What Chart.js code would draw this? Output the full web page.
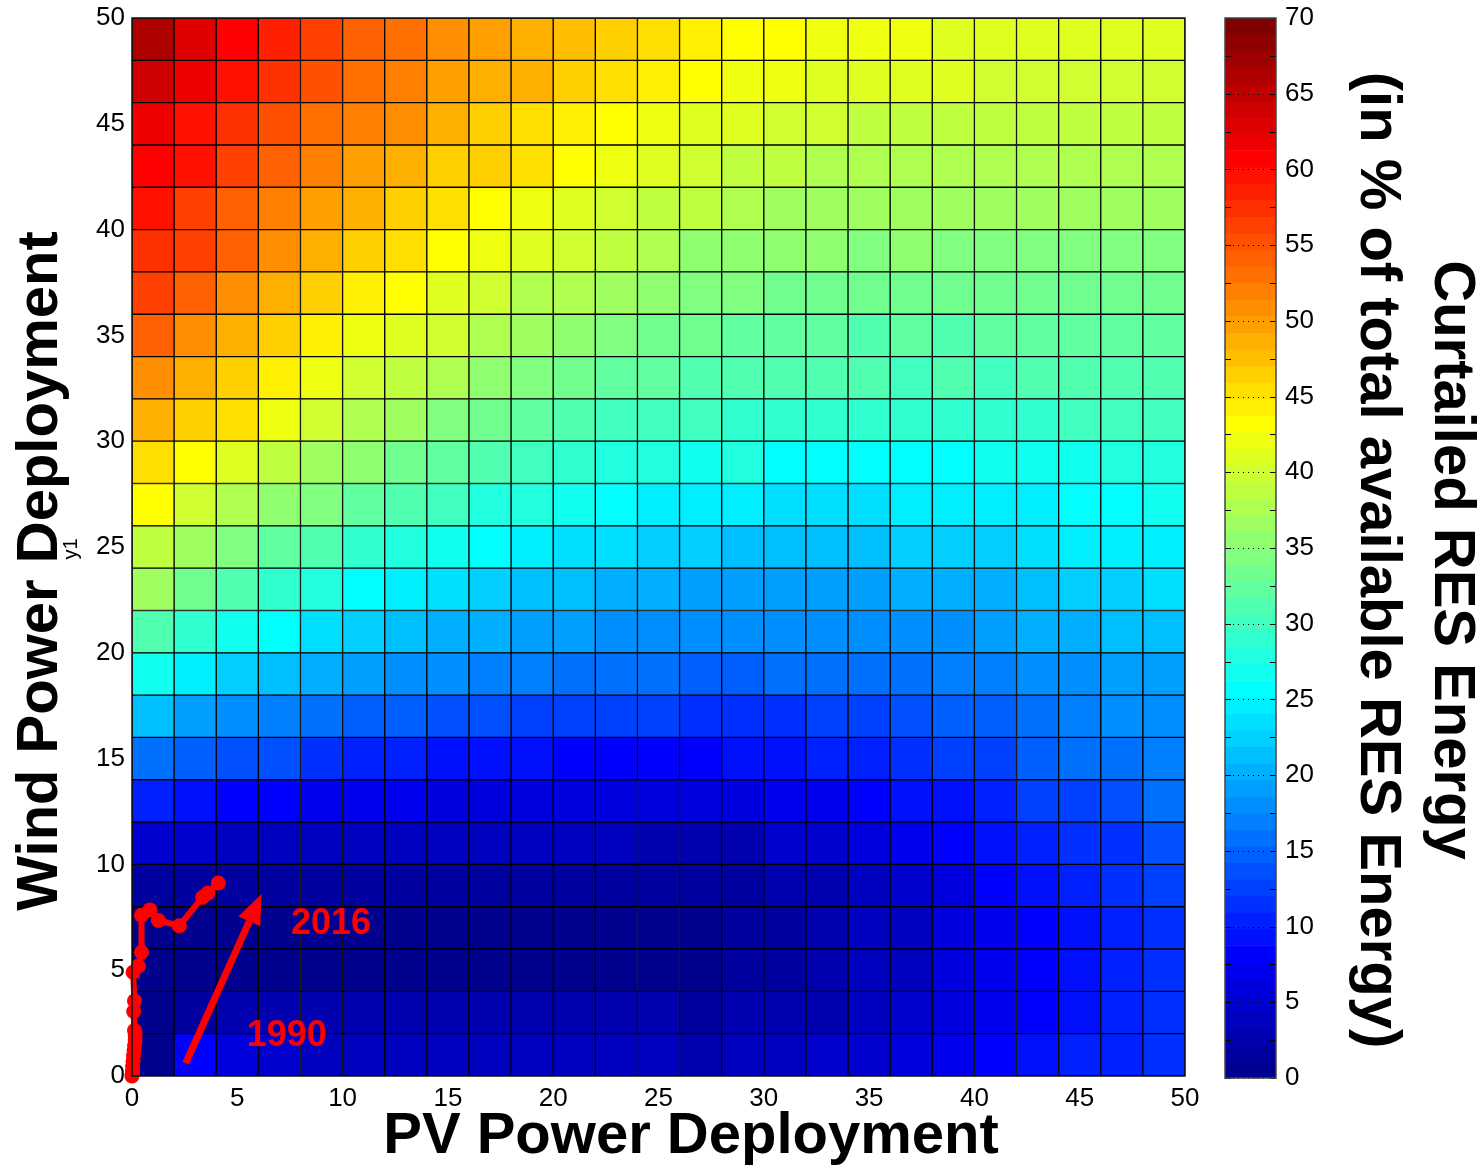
<!DOCTYPE html>
<html>
<head>
<meta charset="utf-8">
<title>Curtailed RES Energy</title>
<script src="https://cdn.jsdelivr.net/npm/chart.js@4.4.1/dist/chart.umd.min.js"></script>
<style>
  html, body { margin: 0; padding: 0; background: #fff; }
  #wrap { position: relative; width: 1481px; height: 1168px; overflow: hidden; }
  #heat { position: absolute; left: 0; top: 0; }
  #bar { position: absolute; left: 1215px; top: 0; }
</style>
</head>
<body>
<div id="wrap">
  <canvas id="heat" width="1215" height="1168"></canvas>
  <canvas id="bar" width="266" height="1168"></canvas>
</div>
<script>
// grid of deployment levels (lower edge of each 2-unit cell)
var binSize = 2;
var pvBins = [0, 2, 4, 6, 8, 10, 12, 14, 16, 18, 20, 22, 24, 26, 28, 30, 32, 34, 36, 38, 40, 42, 44, 46, 48];
var windBins = [0, 2, 4, 6, 8, 10, 12, 14, 16, 18, 20, 22, 24, 26, 28, 30, 32, 34, 36, 38, 40, 42, 44, 46, 48];

// curtailed RES energy (%), one row per wind level, columns follow pvBins
var curtailment = [
  [0.0, 8.2, 5.5, 4.4, 3.5, 3.5, 3.5, 3.5, 3.5, 3.5, 3.5, 3.5, 3.3, 2.7, 3.3, 3.8, 4.4, 4.9, 6.0, 7.1, 8.2, 8.8, 9.9, 10.4, 11.5],       // wind 0-2
  [0.2, 1.6, 2.2, 2.2, 2.2, 2.2, 2.2, 2.2, 2.2, 2.2, 2.2, 2.2, 2.2, 1.6, 2.2, 2.2, 2.7, 3.8, 4.9, 6.0, 7.1, 8.2, 9.3, 10.4, 11.5],       // wind 2-4
  [0.2, 0.8, 0.8, 0.8, 0.8, 0.8, 0.8, 0.8, 0.8, 0.8, 0.8, 0.8, 0.8, 0.6, 1.2, 1.6, 2.2, 3.3, 3.8, 5.5, 7.1, 8.2, 9.3, 10.4, 11.5],       // wind 4-6
  [0.6, 0.6, 0.6, 0.6, 0.6, 0.6, 0.6, 0.6, 0.6, 0.6, 0.6, 0.6, 0.6, 0.6, 1.2, 1.6, 2.2, 3.3, 3.8, 5.5, 7.1, 8.2, 9.3, 10.4, 12.0],       // wind 6-8
  [1.3, 1.3, 1.3, 1.3, 1.3, 1.3, 1.3, 1.3, 1.3, 1.3, 1.3, 1.9, 1.9, 1.9, 1.9, 2.4, 2.7, 3.8, 4.9, 6.0, 8.2, 9.3, 10.4, 11.5, 12.6],      // wind 8-10
  [4.6, 4.4, 3.8, 3.5, 3.5, 3.5, 3.5, 3.5, 3.5, 3.5, 3.5, 3.5, 3.1, 3.1, 3.1, 4.4, 5.2, 6.0, 7.1, 8.2, 9.0, 10.2, 11.2, 12.0, 13.4],     // wind 10-12
  [10.4, 9.5, 8.3, 7.7, 7.2, 7.2, 6.7, 6.2, 6.2, 6.2, 5.6, 5.6, 5.6, 5.6, 5.6, 6.7, 7.2, 8.3, 9.0, 9.5, 10.4, 12.1, 12.6, 13.7, 15.4],  // wind 12-14
  [15.9, 14.8, 13.7, 13.2, 11.5, 10.4, 10.0, 9.5, 9.0, 9.0, 8.3, 8.3, 8.3, 8.3, 9.5, 9.5, 10.0, 10.4, 11.0, 12.1, 12.6, 14.3, 15.4, 15.9, 16.5], // wind 14-16
  [21.7, 19.2, 18.1, 17.0, 15.9, 14.8, 14.3, 13.7, 13.2, 12.6, 12.6, 12.1, 12.1, 11.5, 11.5, 11.0, 12.1, 12.6, 13.2, 14.3, 14.8, 15.4, 16.5, 17.5, 18.1], // wind 16-18
  [26.8, 24.7, 22.6, 20.8, 19.8, 19.2, 18.1, 17.5, 17.0, 16.5, 15.9, 15.4, 15.4, 14.8, 14.8, 15.4, 15.4, 15.4, 15.9, 16.5, 17.0, 17.5, 18.1, 19.2, 19.2], // wind 18-20
  [31.2, 29.1, 26.8, 25.7, 23.7, 22.1, 20.8, 20.3, 19.8, 19.2, 18.7, 18.1, 17.5, 17.5, 17.5, 17.5, 17.5, 17.5, 18.1, 18.1, 19.2, 19.8, 20.3, 20.8, 21.7], // wind 20-22
  [36.3, 33.4, 31.2, 29.1, 28.1, 25.7, 24.7, 23.7, 22.6, 21.7, 20.8, 20.3, 19.8, 19.2, 19.2, 19.2, 19.2, 19.2, 19.8, 19.8, 20.3, 21.7, 22.6, 22.6, 23.7], // wind 22-24
  [38.9, 36.8, 34.5, 32.4, 31.2, 29.1, 28.1, 26.8, 25.7, 24.2, 23.7, 23.1, 22.6, 22.1, 21.7, 21.7, 21.7, 21.7, 22.1, 22.6, 22.6, 23.7, 24.2, 25.1, 24.7], // wind 24-26
  [43.1, 39.7, 37.3, 35.6, 34.5, 32.4, 31.2, 30.1, 28.1, 28.1, 26.8, 25.7, 24.7, 24.7, 24.7, 23.7, 23.7, 23.7, 24.7, 24.7, 24.7, 25.1, 25.7, 25.7, 26.8], // wind 26-28
  [45.7, 43.1, 40.9, 38.4, 36.8, 35.6, 33.4, 32.1, 31.2, 29.6, 29.1, 28.3, 28.1, 26.8, 27.4, 25.7, 25.7, 25.7, 25.7, 25.7, 26.8, 26.8, 26.8, 28.1, 28.1], // wind 28-30
  [49.2, 46.8, 44.9, 42.0, 39.7, 37.3, 36.3, 34.5, 33.4, 32.1, 31.2, 30.1, 29.6, 29.6, 29.1, 29.1, 29.1, 29.1, 29.1, 29.1, 29.1, 29.1, 29.6, 29.6, 30.1], // wind 30-32
  [51.1, 48.9, 46.8, 44.5, 41.8, 39.7, 38.4, 37.3, 35.1, 34.0, 33.4, 32.4, 32.1, 31.2, 30.7, 30.7, 30.7, 30.7, 30.1, 30.7, 30.1, 30.7, 30.7, 30.7, 31.2], // wind 32-34
  [53.8, 51.1, 48.9, 47.0, 44.5, 41.8, 40.6, 39.4, 37.3, 36.3, 35.1, 34.0, 32.9, 32.9, 32.4, 32.4, 32.4, 31.2, 31.8, 31.2, 31.8, 32.4, 32.4, 31.8, 32.4], // wind 34-36
  [55.8, 53.8, 51.4, 48.7, 46.8, 44.8, 43.1, 40.9, 39.7, 37.8, 37.3, 36.8, 35.6, 34.0, 34.0, 33.4, 33.4, 33.4, 33.4, 33.4, 33.4, 33.4, 33.4, 33.4, 33.4], // wind 36-38
  [57.9, 56.4, 54.0, 51.1, 48.9, 47.0, 45.7, 43.1, 42.0, 40.6, 39.7, 38.4, 37.8, 35.6, 35.6, 35.6, 35.1, 34.5, 35.1, 34.5, 34.5, 34.5, 34.5, 34.5, 34.5], // wind 38-40
  [59.7, 56.6, 54.5, 51.9, 49.8, 48.7, 46.8, 45.7, 43.1, 41.8, 40.9, 40.1, 38.9, 38.4, 37.3, 36.8, 36.8, 36.8, 36.8, 36.8, 36.8, 36.8, 36.8, 36.8, 36.8], // wind 40-42
  [60.5, 59.1, 56.6, 54.2, 52.2, 50.1, 49.2, 47.0, 46.2, 44.9, 43.1, 42.0, 41.1, 39.4, 38.4, 38.4, 37.8, 37.8, 37.8, 37.8, 37.3, 37.8, 37.3, 37.3, 37.3], // wind 42-44
  [62.1, 59.7, 57.7, 55.3, 53.4, 52.2, 50.9, 49.2, 47.0, 45.9, 44.5, 43.1, 42.2, 40.6, 40.6, 40.1, 39.4, 38.9, 38.9, 38.9, 38.9, 38.9, 38.9, 38.9, 38.9], // wind 44-46
  [64.3, 61.9, 59.7, 57.9, 55.3, 53.4, 52.2, 50.1, 49.2, 48.5, 46.8, 44.9, 44.7, 43.1, 42.2, 42.2, 41.1, 41.1, 41.1, 40.6, 40.1, 40.1, 40.1, 40.1, 40.1], // wind 46-48
  [65.9, 63.1, 60.6, 59.0, 56.6, 54.2, 53.4, 51.1, 49.9, 48.7, 47.6, 46.8, 45.9, 44.8, 43.2, 43.2, 42.0, 42.0, 42.0, 41.1, 41.1, 41.1, 41.1, 41.1, 40.7]  // wind 48-50
];

// historical deployment path, 1990 -> 2016
var pvTrack   = [0.00, 0.01, 0.02, 0.03, 0.05, 0.07, 0.10, 0.12, 0.15, 0.15, 0.12, 0.08, 0.12, 0.05, 0.30, 0.45, 0.45, 0.85, 1.25, 2.25, 3.35, 3.60, 4.10];
var windTrack = [0.00, 0.10, 0.25, 0.45, 0.70, 0.95, 1.20, 1.45, 1.70, 1.95, 2.15, 3.05, 3.55, 4.90, 5.20, 5.85, 7.60, 7.85, 7.35, 7.10, 8.45, 8.65, 9.12];

// tick labels
var axisTicks = [0, 5, 10, 15, 20, 25, 30, 35, 40, 45, 50];
var colorTicks = [0, 5, 10, 15, 20, 25, 30, 35, 40, 45, 50, 55, 60, 65, 70];

var clim = [0, 70];
var nLevels = 64;

Chart.defaults.font.family = '"Liberation Sans", Arial, sans-serif';
Chart.defaults.color = '#000';

// matlab style jet(64)
var jetMap = (function () {
  var n = 16, u = [], map = [];
  for (var i = 1; i <= n; i++) u.push(i / n);
  for (var i = 0; i < n - 1; i++) u.push(1);
  for (var i = n; i >= 1; i--) u.push(i / n);
  for (var i = 0; i < nLevels; i++) map.push([0, 0, 0]);
  for (var k = 0; k < u.length; k++) {
    var g = 8 + k, r = g + n, b = g - n;
    if (r < nLevels) map[r][0] = u[k];
    if (g < nLevels) map[g][1] = u[k];
    if (b >= 0) map[b][2] = u[k];
  }
  return map;
})();

function levelColor(i) {
  var c = jetMap[i];
  return 'rgb(' + Math.round(c[0] * 255) + ',' + Math.round(c[1] * 255) + ',' + Math.round(c[2] * 255) + ')';
}

function jetColor(v) {
  var i = Math.floor((v - clim[0]) / (clim[1] - clim[0]) * nLevels);
  i = Math.max(0, Math.min(nLevels - 1, i));
  return levelColor(i);
}

var boldFont = 'bold 58px "Liberation Sans", Arial, sans-serif';

function drawArrow(ctx, x0, y0, x1, y1) {
  var ang = Math.atan2(y1 - y0, x1 - x0);
  var headLen = 30, headHalf = 12;
  var bx = x1 - headLen * Math.cos(ang), by = y1 - headLen * Math.sin(ang);
  ctx.strokeStyle = '#ff0000';
  ctx.fillStyle = '#ff0000';
  ctx.lineWidth = 7;
  ctx.beginPath();
  ctx.moveTo(x0, y0);
  ctx.lineTo(bx, by);
  ctx.stroke();
  ctx.beginPath();
  ctx.moveTo(x1, y1);
  ctx.lineTo(bx + headHalf * Math.sin(ang), by - headHalf * Math.cos(ang));
  ctx.lineTo(bx - headHalf * Math.sin(ang), by + headHalf * Math.cos(ang));
  ctx.closePath();
  ctx.fill();
}

function rotatedText(ctx, text, x, y, angle, font) {
  ctx.save();
  ctx.translate(x, y);
  ctx.rotate(angle);
  ctx.font = font;
  ctx.textAlign = 'center';
  ctx.textBaseline = 'middle';
  ctx.fillText(text, 0, 0);
  ctx.restore();
}

// keep the plot box where the layout padding puts it
function noEdgePadding(s) {
  s.paddingTop = 0; s.paddingBottom = 0;
  s.paddingLeft = 0; s.paddingRight = 0;
}

// frame, arrow, year notes and axis titles
var heatDecor = {
  id: 'heatDecor',
  afterDraw: function (chart) {
    var ctx = chart.ctx, a = chart.chartArea;
    var xs = chart.scales.x, ys = chart.scales.y;
    ctx.save();
    ctx.strokeStyle = '#111';
    ctx.lineWidth = 1.5;
    ctx.strokeRect(a.left, a.top, a.right - a.left, a.bottom - a.top);

    drawArrow(ctx, xs.getPixelForValue(2.55), ys.getPixelForValue(0.6),
                   xs.getPixelForValue(6.15), ys.getPixelForValue(8.6));

    ctx.fillStyle = '#ff0000';
    ctx.font = 'bold 36px "Liberation Sans", Arial, sans-serif';
    ctx.textAlign = 'center';
    ctx.textBaseline = 'middle';
    ctx.fillText('2016', xs.getPixelForValue(9.45), ys.getPixelForValue(7.2));
    ctx.fillText('1990', xs.getPixelForValue(7.35), ys.getPixelForValue(1.9));

    ctx.fillStyle = '#000';
    ctx.font = boldFont;
    ctx.fillText('PV Power Deployment', 691, 1137);
    rotatedText(ctx, 'Wind Power Deployment', 41, 571, -Math.PI / 2, boldFont);
    rotatedText(ctx, 'y1', 71, 549, -Math.PI / 2, '20px "Liberation Sans", Arial, sans-serif');
    ctx.restore();
  }
};

var heatSets = windBins.map(function (w, r) {
  return {
    type: 'bar',
    label: 'wind ' + w,
    data: pvBins.map(function (p) { return { x: p + binSize / 2, y: [w, w + binSize] }; }),
    backgroundColor: curtailment[r].map(jetColor),
    borderColor: '#000',
    borderWidth: 1,
    borderSkipped: false,
    grouped: false,
    barPercentage: 1,
    categoryPercentage: 1
  };
});

heatSets.push({
  type: 'line',
  label: 'deployment path',
  data: pvTrack.map(function (p, i) { return { x: p, y: windTrack[i] }; }),
  borderColor: '#ff0000',
  borderWidth: 6,
  pointRadius: 7.5,
  pointBackgroundColor: '#ff0000',
  pointBorderWidth: 0,
  tension: 0,
  clip: false,
  order: -1
});

new Chart(document.getElementById('heat'), {
  type: 'bar',
  data: { datasets: heatSets },
  options: {
    responsive: false,
    animation: false,
    devicePixelRatio: 1,
    events: [],
    layout: { padding: { left: 0, top: 18, right: 30, bottom: 0 } },
    plugins: { legend: { display: false }, tooltip: { enabled: false } },
    scales: {
      x: {
        type: 'linear', min: 0, max: 50, stacked: true, offset: false,
        grid: { display: false, drawTicks: false },
        border: { display: false },
        afterBuildTicks: function (s) { s.ticks = axisTicks.map(function (v) { return { value: v }; }); },
        ticks: { font: { size: 26 }, padding: 7, maxRotation: 0, autoSkip: false },
        afterFit: function (s) { s.height = 92; noEdgePadding(s); }
      },
      y: {
        type: 'linear', min: 0, max: 50, stacked: false,
        grid: { display: false, drawTicks: false },
        border: { display: false },
        afterBuildTicks: function (s) { s.ticks = axisTicks.map(function (v) { return { value: v }; }); },
        ticks: { font: { size: 26 }, padding: 7, autoSkip: false },
        afterFit: function (s) { s.width = 132; noEdgePadding(s); }
      }
    }
  },
  plugins: [heatDecor]
});

// colour bar
var levelStep = (clim[1] - clim[0]) / nLevels;
var levelIdx = [];
for (var i = 0; i < nLevels; i++) levelIdx.push(i);

var barDecor = {
  id: 'barDecor',
  afterDraw: function (chart) {
    var ctx = chart.ctx, a = chart.chartArea, ys = chart.scales.y;
    ctx.save();
    ctx.strokeStyle = '#000';
    ctx.lineWidth = 1;
    for (var k = 0; k < colorTicks.length; k++) {
      var y = Math.round(ys.getPixelForValue(colorTicks[k])) + 0.5;
      ctx.setLineDash([]);
      ctx.beginPath();
      ctx.moveTo(a.left, y); ctx.lineTo(a.left + 6, y);
      ctx.moveTo(a.right - 6, y); ctx.lineTo(a.right, y);
      ctx.stroke();
      ctx.setLineDash([1, 4]);
      ctx.beginPath();
      ctx.moveTo(a.left + 8, y); ctx.lineTo(a.right - 8, y);
      ctx.stroke();
      if (k < colorTicks.length - 1) {
        var ym = Math.round(ys.getPixelForValue((colorTicks[k] + colorTicks[k + 1]) / 2)) + 0.5;
        ctx.setLineDash([]);
        ctx.beginPath();
        ctx.moveTo(a.left, ym); ctx.lineTo(a.left + 6, ym);
        ctx.moveTo(a.right - 6, ym); ctx.lineTo(a.right, ym);
        ctx.stroke();
      }
    }
    ctx.setLineDash([]);
    ctx.strokeStyle = '#444';
    ctx.lineWidth = 1.5;
    ctx.strokeRect(a.left, a.top, a.right - a.left, a.bottom - a.top);

    ctx.fillStyle = '#000';
    rotatedText(ctx, 'Curtailed RES Energy', 236, 560, Math.PI / 2, boldFont);
    rotatedText(ctx, '(in % of total available RES Energy)', 162, 560, Math.PI / 2, boldFont);
    ctx.restore();
  }
};

new Chart(document.getElementById('bar'), {
  type: 'bar',
  data: {
    datasets: [{
      label: 'colour levels',
      data: levelIdx.map(function (i) { return { x: 0, y: [clim[0] + i * levelStep, clim[0] + (i + 1) * levelStep] }; }),
      backgroundColor: levelIdx.map(levelColor),
      borderWidth: 0,
      grouped: false,
      barPercentage: 1,
      categoryPercentage: 1
    }]
  },
  options: {
    responsive: false,
    animation: false,
    devicePixelRatio: 1,
    events: [],
    layout: { padding: { left: 10, top: 18, right: 0, bottom: 90 } },
    plugins: { legend: { display: false }, tooltip: { enabled: false } },
    scales: {
      x: { type: 'linear', min: -0.5, max: 0.5, stacked: true, offset: false, display: false },
      y: {
        type: 'linear', position: 'right', min: clim[0], max: clim[1], stacked: false,
        grid: { display: false, drawTicks: false },
        border: { display: false },
        afterBuildTicks: function (s) { s.ticks = colorTicks.map(function (v) { return { value: v }; }); },
        ticks: { font: { size: 26 }, padding: 9, autoSkip: false },
        afterFit: function (s) { s.width = 205; noEdgePadding(s); }
      }
    }
  },
  plugins: [barDecor]
});
</script>
</body>
</html>
